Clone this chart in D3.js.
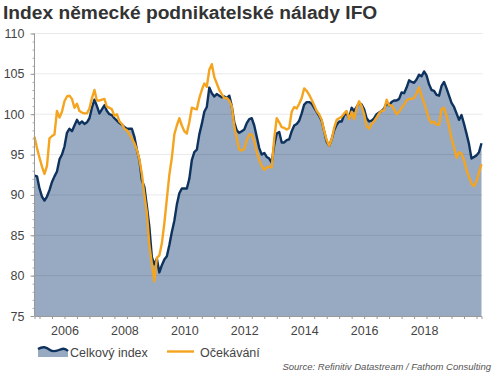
<!DOCTYPE html>
<html>
<head>
<meta charset="utf-8">
<script src="https://cdn.jsdelivr.net/npm/d3@7"></script>
<style>
  body { margin: 0; background: #fff; }
  svg { font-family: "Liberation Sans", Arial, sans-serif; }
</style>
</head>
<body>
<div id="chart"></div>
<script>
// monthly values, Jan 2005 .. Dec 2019
let startYear = 2005;

let celkovy = [
  92.4, 92.3, 90.8, 89.8, 89.3, 89.8, 90.6, 91.6, 92.3, 92.9, 94.4, 95.0,   // 2005
  96.0, 97.7, 98.2, 97.9, 98.6, 99.3, 98.8, 99.1, 98.8, 99.0, 99.5, 100.8,  // 2006
  101.8, 101.0, 100.1, 100.6, 101.1, 100.4, 100.0, 99.9, 99.5, 99.2, 98.9, 98.7, // 2007
  98.4, 98.2, 98.2, 98.2, 97.2, 95.6, 94.3, 91.8, 91.0, 88.6, 86.0, 82.3,   // 2008
  81.4, 82.1, 80.4, 81.3, 82.0, 82.4, 83.8, 85.4, 86.8, 88.8, 90.2, 90.8,   // 2009
  90.8, 90.8, 92.0, 94.3, 95.3, 95.6, 97.5, 98.8, 100.3, 100.9, 103.3, 102.6, // 2010
  102.2, 102.5, 102.3, 102.1, 102.2, 102.0, 102.3, 101.0, 99.0, 98.0, 97.7, 97.9, // 2011
  98.1, 98.9, 99.4, 99.5, 98.6, 97.2, 95.8, 95.0, 95.2, 94.7, 94.5, 94.0,   // 2012
  96.2, 97.6, 97.8, 96.5, 96.5, 96.8, 96.9, 97.9, 98.6, 98.8, 99.2, 100.1,  // 2013
  101.2, 101.5, 101.5, 101.3, 100.8, 100.3, 99.8, 99.2, 97.9, 96.6, 96.1, 96.9, // 2014
  98.0, 98.7, 99.1, 99.1, 99.9, 100.1, 99.5, 100.8, 100.4, 100.9, 101.4, 101.2, // 2015
  100.6, 99.5, 99.1, 99.2, 99.5, 100.0, 100.2, 100.4, 100.7, 101.4, 101.1, 101.5, // 2016
  101.7, 101.7, 101.9, 102.7, 102.6, 103.3, 104.2, 104.0, 103.9, 104.3, 104.9, 104.7, // 2017
  105.3, 104.8, 103.7, 103.0, 102.9, 102.4, 102.3, 103.5, 104.0, 103.2, 102.3, 101.4, // 2018
  100.9, 100.1, 99.3, 99.9, 98.8, 97.6, 96.3, 94.5, 94.7, 94.9, 95.3, 96.4  // 2019
];

let ocekavani = [
  97.2, 95.8, 94.6, 93.5, 92.6, 93.6, 97.0, 97.3, 97.5, 100.4, 99.6, 100.3, // 2005
  101.6, 102.2, 102.3, 101.9, 100.8, 101.3, 100.4, 100.2, 100.1, 100.1, 100.7, 102.0, // 2006
  103.0, 101.7, 101.7, 101.8, 101.9, 100.9, 100.8, 100.6, 99.8, 100.0, 99.1, 98.8, // 2007
  98.2, 98.0, 97.5, 97.0, 96.4, 95.6, 94.4, 92.6, 90.0, 87.8, 83.8, 81.5,   // 2008
  79.3, 82.2, 82.5, 84.0, 86.5, 89.5, 92.5, 94.6, 97.5, 98.6, 99.5, 98.6,   // 2009
  97.9, 97.6, 99.0, 100.8, 100.7, 100.6, 102.0, 103.0, 103.8, 103.4, 105.5, 106.2, // 2010
  104.6, 103.8, 103.0, 102.5, 102.0, 102.0, 101.7, 101.0, 98.5, 97.0, 95.6, 95.5, // 2011
  95.7, 96.8, 97.5, 97.5, 96.7, 95.3, 94.3, 93.6, 93.1, 93.4, 93.5, 93.4,   // 2012
  97.0, 99.5, 99.0, 98.4, 98.3, 98.1, 98.3, 100.3, 100.9, 100.7, 101.3, 102.0, // 2013
  103.2, 102.9, 102.4, 101.8, 101.1, 100.4, 100.0, 99.3, 97.9, 96.8, 96.1, 96.9, // 2014
  98.3, 99.3, 99.5, 99.7, 100.1, 100.4, 99.4, 100.3, 99.4, 100.8, 101.6, 101.0, // 2015
  100.0, 98.5, 98.2, 98.8, 99.1, 99.6, 100.1, 100.4, 100.5, 101.8, 101.1, 101.1, // 2016
  100.6, 100.0, 100.3, 100.8, 101.2, 101.7, 101.9, 101.9, 102.0, 102.6, 103.3, 102.3, // 2017
  101.4, 100.4, 99.4, 98.9, 99.1, 98.7, 98.7, 100.6, 100.8, 99.8, 98.5, 97.0, // 2018
  95.9, 94.6, 95.3, 95.1, 94.3, 93.1, 92.2, 91.4, 91.1, 91.7, 92.8, 93.8   // 2019
];

let yTicks = [75, 80, 85, 90, 95, 100, 105, 110];
let yearLabels = [2006, 2008, 2010, 2012, 2014, 2016, 2018];
let seriesNames = ["Celkový index", "Očekávání"];

let titleText = "Index německé podnikatelské nálady IFO";
let sourceText = "Source: Refinitiv Datastream / Fathom Consulting";

// DIMENSIONS //
let width = 500, height = 374;
let plot = {left: 34.5, right: 481.5, top: 33.5, bottom: 316};

let navy = "#0e325e",
    orange = "#f4a41f",
    fillCol = "#98aac2";

let svg = d3.select("#chart")
  .append("svg")
  .attr("width", width)
  .attr("height", height);

// title
svg.append("text")
  .attr("x", 3)
  .attr("y", 19)
  .attr("font-size", 19.2)
  .attr("font-weight", "bold")
  .attr("fill", "#333")
  .text(titleText);

// SCALES //
let xScale = d3.scaleLinear()
  .domain([0, celkovy.length - 1])
  .range([plot.left, plot.right]);

let yScale = d3.scaleLinear()
  .domain([75, 110])
  .range([plot.bottom, plot.top]);

// AREA + LINES //
let area = d3.area()
  .x((d, i) => xScale(i))
  .y0(yScale(75))
  .y1(d => yScale(d));

let line = d3.line()
  .x((d, i) => xScale(i))
  .y(d => yScale(d));

svg.append("path")
  .datum(celkovy)
  .attr("d", area)
  .attr("fill", fillCol);

// gridlines
svg.append("g")
  .selectAll("line")
  .data(yTicks.slice(1))
  .join("line")
  .attr("x1", plot.left)
  .attr("x2", plot.right + 1)
  .attr("y1", d => yScale(d))
  .attr("y2", d => yScale(d))
  .attr("stroke", "#000")
  .attr("stroke-opacity", 0.09);

svg.append("path")
  .datum(celkovy)
  .attr("d", line)
  .attr("fill", "none")
  .attr("stroke", navy)
  .attr("stroke-width", 2.4)
  .attr("stroke-linejoin", "round");

svg.append("path")
  .datum(ocekavani)
  .attr("d", line)
  .attr("fill", "none")
  .attr("stroke", orange)
  .attr("stroke-width", 2.4)
  .attr("stroke-linejoin", "round");

// Y AXIS //
let yMinor = d3.range(75, 111, 1);
svg.append("g")
  .attr("transform", `translate(${plot.left},0)`)
  .call(d3.axisLeft(yScale).tickValues(yMinor).tickSize(2).tickFormat(""))
  .call(g => g.select(".domain").remove())
  .call(g => g.selectAll("line").attr("stroke", "#aaa"));

svg.append("g")
  .attr("transform", `translate(${plot.left},0)`)
  .call(d3.axisLeft(yScale).tickValues(yTicks).tickSize(4).tickPadding(6))
  .call(g => g.select(".domain").attr("stroke", "#999").attr("d", `M-0,${plot.top}V${plot.bottom}`))
  .call(g => g.selectAll("line").attr("stroke", "#999"))
  .call(g => g.selectAll("text")
    .attr("font-size", 12.5)
    .attr("font-family", "Liberation Sans, Arial, sans-serif")
    .attr("fill", "#444"));

// X AXIS //
let xMinor = d3.range(2, celkovy.length, 5);
svg.append("g")
  .attr("transform", `translate(0,${plot.bottom})`)
  .call(d3.axisBottom(xScale).tickValues(xMinor).tickSize(3).tickFormat(""))
  .call(g => g.select(".domain").attr("stroke", "#999"))
  .call(g => g.selectAll("line").attr("stroke", "#999"));

svg.append("g")
  .attr("transform", `translate(0,${plot.bottom})`)
  .call(d3.axisBottom(xScale)
    .tickValues(yearLabels.map(y => (y - startYear) * 12))
    .tickSize(0)
    .tickPadding(10)
    .tickFormat(m => startYear + m / 12))
  .call(g => g.select(".domain").remove())
  .call(g => g.selectAll("text")
    .attr("font-size", 12.5)
    .attr("font-family", "Liberation Sans, Arial, sans-serif")
    .attr("fill", "#444"));

// LEGEND //
let leg = svg.append("g");

// mini area swatch for the index
leg.append("path")
  .attr("d", "M38,349 C43,346 46,347 50,350 C54,353 58,350 62,349 C65,348 67,350 68,351 L68,357 L38,357 Z")
  .attr("fill", fillCol);
leg.append("path")
  .attr("d", "M38,349 C43,346 46,347 50,350 C54,353 58,350 62,349 C65,348 67,350 68,351")
  .attr("fill", "none")
  .attr("stroke", navy)
  .attr("stroke-width", 2.4);
leg.append("text")
  .attr("x", 70)
  .attr("y", 357)
  .attr("font-size", 12.5)
  .attr("fill", "#444")
  .text(seriesNames[0]);

leg.append("line")
  .attr("x1", 167).attr("x2", 194)
  .attr("y1", 351.5).attr("y2", 351.5)
  .attr("stroke", orange)
  .attr("stroke-width", 2.4);
leg.append("text")
  .attr("x", 200)
  .attr("y", 357)
  .attr("font-size", 12.5)
  .attr("fill", "#444")
  .text(seriesNames[1]);

// source
svg.append("text")
  .attr("x", 491)
  .attr("y", 370)
  .attr("text-anchor", "end")
  .attr("font-size", 9.5)
  .attr("font-style", "italic")
  .attr("fill", "#555")
  .text(sourceText);
</script>
</body>
</html>
